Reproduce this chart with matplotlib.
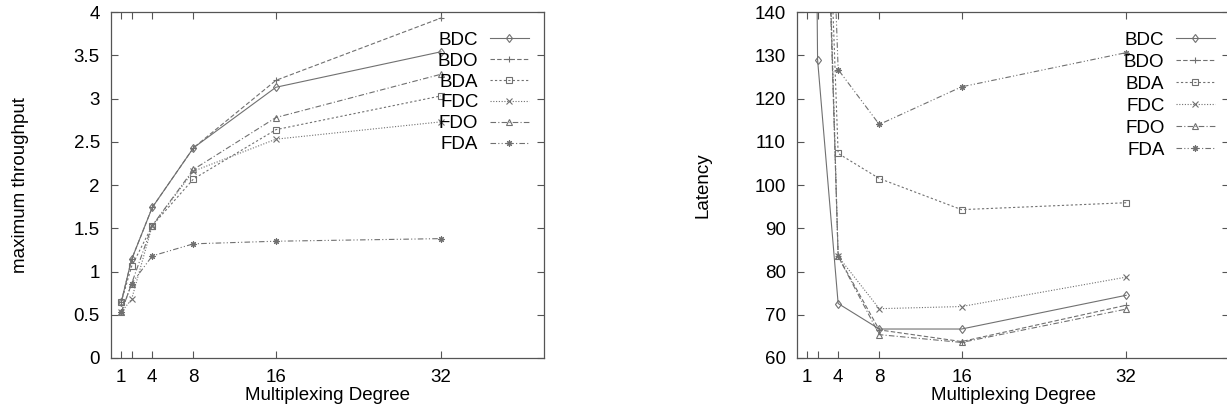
import matplotlib.pyplot as plt

degree = [1, 2, 4, 8, 16, 32]
names = ["BDC", "BDO", "BDA", "FDC", "FDO", "FDA"]

# maximum throughput (left panel)
tp_bdc = [0.65, 1.14, 1.74, 2.43, 3.13, 3.54]
tp_bdo = [0.65, 1.14, 1.74, 2.43, 3.21, 3.93]
tp_bda = [0.65, 1.06, 1.53, 2.07, 2.64, 3.03]
tp_fdc = [0.53, 0.68, 1.53, 2.16, 2.53, 2.73]
tp_fdo = [0.53, 0.86, 1.53, 2.18, 2.78, 3.28]
tp_fda = [0.53, 0.86, 1.18, 1.32, 1.35, 1.38]

# latency (right panel), values at degree 1-2 run off the top
lat_bdc = [400, 129.0, 72.6, 66.7, 66.7, 74.5]
lat_bdo = [520, 245, 83.5, 66.5, 63.8, 72.2]
lat_bda = [540, 238, 107.3, 101.5, 94.3, 95.9]
lat_fdc = [560, 250, 83.5, 71.4, 71.9, 78.7]
lat_fdo = [500, 240, 83.5, 65.4, 63.6, 71.3]
lat_fda = [580, 260, 126.7, 114.0, 122.7, 130.6]

xticks = [1, 2, 4, 8, 16, 32]
xticklabels = ["1", "", "4", "8", "16", "32"]
tp_ticks = [0, 0.5, 1, 1.5, 2, 2.5, 3, 3.5, 4]
tp_ticklabels = ["0", "0.5", "1", "1.5", "2", "2.5", "3", "3.5", "4"]
lat_ticks = [60, 70, 80, 90, 100, 110, 120, 130, 140]

styles = [
    ("-", "d"),
    ((0, (4, 2)), "+"),
    ((0, (2, 2)), "s"),
    ((0, (1, 1.5)), "x"),
    ((0, (5, 2, 1, 2)), "^"),
    ((0, (5, 2, 1, 2, 1, 2)), (8, 2, 0)),
]

plt.rcParams["font.family"] = ["Liberation Sans", "DejaVu Sans"]
plt.rcParams["font.size"] = 13.5

line_col = "#707070"
W, H = 1227, 413
fig = plt.figure(figsize=(W / 100, H / 100), dpi=100)
ax1 = fig.add_axes([111 / W, (H - 358) / H, 433 / W, 346 / H])
ax2 = fig.add_axes([797 / W, (H - 358) / H, 432 / W, 346 / H])


def panel(ax, series, ylim, yticks, yticklabels, ylabel, leg_x, spacing,
          label_x):
    for name, ys, (ls, mk) in zip(names, series, styles):
        ax.plot(degree, ys, color=line_col, linestyle=ls, linewidth=0.8,
                marker=mk, markersize=4.5, markerfacecolor="none",
                markeredgecolor=line_col, markeredgewidth=0.8, label=name)
    ax.set_xlim(0, 42)
    ax.set_ylim(*ylim)
    ax.set_xticks(xticks)
    ax.set_xticklabels(xticklabels)
    ax.set_yticks(yticks)
    ax.set_yticklabels(yticklabels)
    ax.tick_params(direction="in", top=True, right=True, length=5,
                   width=0.8, color="#555555", pad=8)
    for s in ax.spines.values():
        s.set_color("#555555")
        s.set_linewidth(0.9)
    ax.set_xlabel("Multiplexing Degree", labelpad=1)
    ax.set_ylabel(ylabel, va="center")
    ax.yaxis.set_label_coords(label_x, 0.5)
    ax.legend(loc="upper right", bbox_to_anchor=(leg_x, 0.943),
              frameon=False, markerfirst=False, handlelength=2.1,
              handletextpad=0.6, labelspacing=spacing, borderpad=0,
              borderaxespad=0)


panel(ax1, [tp_bdc, tp_bdo, tp_bda, tp_fdc, tp_fdo, tp_fda], (0, 4),
      tp_ticks, tp_ticklabels, "maximum throughput", (529 - 111) / 433, 0.2,
      -0.208)
panel(ax2, [lat_bdc, lat_bdo, lat_bda, lat_fdc, lat_fdo, lat_fda], (60, 140),
      lat_ticks, [str(v) for v in lat_ticks], "Latency", (1215 - 797) / 432,
      0.26, -0.218)

fig.savefig("out.png", dpi=100)
